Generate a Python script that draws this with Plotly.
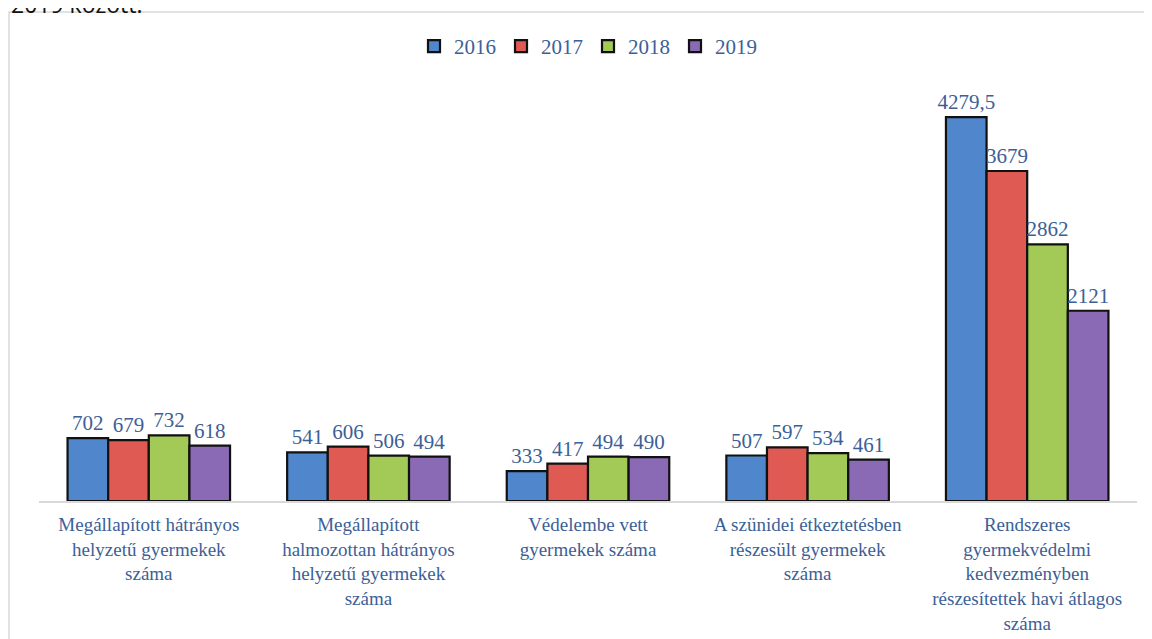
import plotly.graph_objects as go

categories = [
    "Megállapított hátrányos<br>helyzetű gyermekek<br>száma",
    "Megállapított<br>halmozottan hátrányos<br>helyzetű gyermekek<br>száma",
    "Védelembe vett<br>gyermekek száma",
    "A szünidei étkeztetésben<br>részesült gyermekek<br>száma",
    "Rendszeres<br>gyermekvédelmi<br>kedvezményben<br>részesítettek havi átlagos<br>száma",
]
years = ["2016", "2017", "2018", "2019"]
v2016 = [702, 541, 333, 507, 4279.5]
v2017 = [679, 606, 417, 597, 3679]
v2018 = [732, 506, 494, 534, 2862]
v2019 = [618, 494, 490, 461, 2121]
series = [v2016, v2017, v2018, v2019]
colors = ["#4f86cc", "#de5a53", "#a3c957", "#8a6ab5"]

label_color = "#3c6096"
serif = "Palatino Linotype, Book Antiqua, Liberation Serif, serif"


def fmt(v):
    if float(v).is_integer():
        return str(int(v))
    return str(v).replace(".", ",")


fig = go.Figure()
for yr, vals, col in zip(years, series, colors):
    fig.add_trace(go.Bar(
        name=yr, x=categories, y=vals,
        marker=dict(color=col, line=dict(color="#111111", width=2.2)),
        text=[fmt(v) for v in vals], textposition="outside",
        textfont=dict(family=serif, size=21, color=label_color),
        constraintext="none", cliponaxis=False,
    ))

# page is offset by 8px body margin: work in reference page pixels, convert
OFF = 8
W, H = 1144, 631
L, R, T, B = 31, 15, 72, 138
pw = W - L - R
ph = H - T - B


def px_x(x):  # reference page px -> paper
    return (x - OFF - L) / pw


def px_y(y):
    return (H - B - (y - OFF)) / ph


fig.update_layout(
    width=W, height=H,
    margin=dict(l=L, r=R, t=T, b=B, autoexpand=False),
    paper_bgcolor="white", plot_bgcolor="white",
    barmode="group", bargap=0.26, bargroupgap=0,
    showlegend=True,
    legend=dict(orientation="h", x=0.5, xanchor="center", y=px_y(26), yanchor="top",
                font=dict(family=serif, size=21, color=label_color),
                itemwidth=30, traceorder="normal"),
    xaxis=dict(showline=True, linecolor="#d9d9d9", linewidth=2, ticks="",
               tickfont=dict(family=serif, size=19, color=label_color),
               ticklabelstandoff=5, showgrid=False, automargin=False),
    yaxis=dict(visible=False, range=[0, (H - B - T) / 0.0897], showgrid=False,
               automargin=False),
    shapes=[dict(type="rect", xref="paper", yref="paper",
                 x0=px_x(9), x1=px_x(1148), y0=px_y(660), y1=px_y(12),
                 line=dict(color="#d9d9d9", width=1.5), fillcolor="rgba(0,0,0,0)", layer="below")],
    annotations=[dict(text="2019 között.", xref="paper", yref="paper",
                      x=px_x(9), y=px_y(4), xanchor="left", yanchor="middle",
                      showarrow=False, font=dict(family="Open Sans", size=23, color="#111111"))],
)

fig.write_html("out.html")
